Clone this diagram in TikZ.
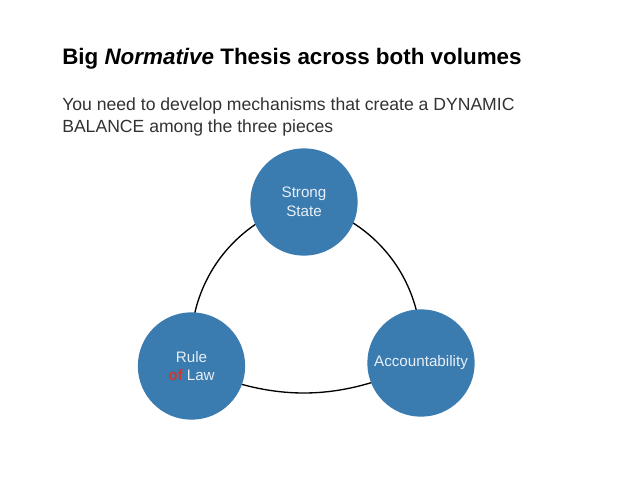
\documentclass[tikz,border=0pt]{standalone}
\usepackage{fontspec}
\setmainfont{Liberation Sans}
\definecolor{ballblue}{RGB}{58,123,176}
\definecolor{balltext}{RGB}{232,239,246}
\definecolor{ofred}{RGB}{200,58,48}
\definecolor{subgrey}{RGB}{50,50,50}
\pgfdeclarelayer{bg}
\pgfsetlayers{bg,main}
\tikzset{
  ball/.style={circle, fill=ballblue, minimum size=80.5pt, inner sep=0pt,
    text=balltext, align=center, font=\fontsize{11.4}{14}\selectfont},
  link/.style={draw=black, line width=1pt},
  titletext/.style={anchor=base west, inner sep=0pt, font=\bfseries\fontsize{16.8}{20}\selectfont},
  subtext/.style={anchor=base west, inner sep=0pt, text=subgrey, font=\fontsize{13.2}{16}\selectfont}
}
\begin{document}
\begin{tikzpicture}[x=0.75pt,y=0.75pt]
\useasboundingbox (0,0) rectangle (638,479);
\node[titletext] (title) at (62,414) {Big \textit{Normative} Thesis across both volumes};
\node[subtext] (sub1) at (62,368) {You need to develop mechanisms that create a DYNAMIC};
\node[subtext] (sub2) at (62,346) {BALANCE among the three pieces};
\node[ball] (A) at (304,277) {Strong\\State};
\node[ball] (B) at (191.5,113) {Rule\\{\color{ofred}\bfseries of} Law};
\node[ball] (C) at (421,116) {Accountability};
\begin{pgfonlayer}{bg}
\fill[white] (0,0) rectangle (638,479);
\draw[link] (A.center) to[bend right=40] (B.center);
\draw[link] (B.center) to[bend right=25] (C.center);
\draw[link] (C.center) to[bend right=40] (A.center);
\end{pgfonlayer}
\end{tikzpicture}
\end{document}
